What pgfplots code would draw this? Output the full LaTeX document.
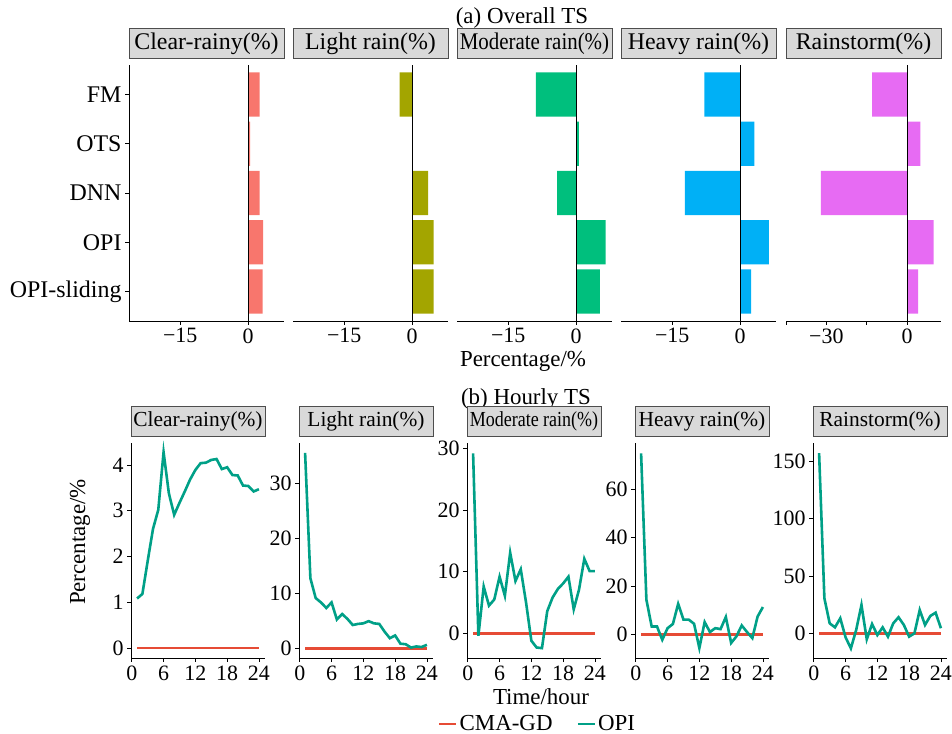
\documentclass[border=0pt]{standalone}
\usepackage{fontspec}
\setmainfont{Liberation Serif}
\usepackage{graphicx}
\usepackage{pgfplots}
\pgfplotsset{compat=1.18}
\newcommand{\fs}[1]{\fontsize{#1}{#1}\selectfont}
\definecolor{cA}{HTML}{F8766D}
\definecolor{cB}{HTML}{A3A500}
\definecolor{cC}{HTML}{00BF7D}
\definecolor{cD}{HTML}{00B0F6}
\definecolor{cE}{HTML}{E76BF3}
\definecolor{cmared}{HTML}{E64B35}
\definecolor{opiteal}{HTML}{00A087}
\definecolor{stripfill}{HTML}{D9D9D9}
\definecolor{stripdraw}{HTML}{4D4D4D}
\pgfplotsset{
  base/.style={scale only axis, clip=false,
    axis line style={-, line width=0.8bp, black},
    tick style={black, line width=0.8bp},
    major tick length=4bp, tick align=outside,
    tick label style={font=\fs{22}},
    /pgf/number format/assume math mode=true},
  topax/.style={base, width=155bp, height=256bp,
    ymin=0.4, ymax=5.6, xmin=-26.3, xmax=7.9,
    xtick={-15,0}, xticklabels={−15,0},
    bar width=0.9,
    title style={at={(0.5,1)}, anchor=south, yshift=0pt, draw=stripdraw, line width=0.8bp,
      fill=stripfill, minimum width=155bp, minimum height=30bp, inner sep=0pt, font=\fs{24}}},
  botax/.style={base, width=134bp, height=215bp,
    xmin=-0.15, xmax=25.15, xtick={0,6,12,18,24},
    axis x line*=bottom, axis y line*=left,
    title style={at={(0.5,1)}, anchor=south, yshift=0pt, draw=stripdraw, line width=0.8bp,
      fill=stripfill, minimum width=134bp, minimum height=30bp, inner sep=0pt, font=\fs{21.5}}},
  barp/.style={xbar, bar shift=0pt, draw=none, fill=#1},
  zline/.style={black, line width=1bp, sharp plot, no markers},
  cma/.style={cmared, line width=2.8bp, no markers, sharp plot},
  opi/.style={opiteal, line width=2.6bp, no markers, sharp plot},
}
% top data: y = 5 FM, 4 OTS, 3 DNN, 2 OPI, 1 OPI-sliding
\pgfplotstableread{
v y
2.5 5
0.4 4
2.5 3
3.3 2
3.2 1
}\tClear
\pgfplotstableread{
v y
-2.8 5
0.0 4
3.5 3
4.7 2
4.7 1
}\tLight
\pgfplotstableread{
v y
-8.9 5
0.6 4
-4.2 3
6.5 2
5.2 1
}\tModerate
\pgfplotstableread{
v y
-7.9 5
3.1 4
-12.2 3
6.3 2
2.4 1
}\tHeavy
\pgfplotstableread{
v y
-13.0 5
4.9 4
-32.0 3
9.9 2
4.1 1
}\tStorm
% hourly data
\pgfplotstableread{
h clear light moderate heavy storm
1 1.08 35.5 29.2 74.7 157
2 1.18 12.7 -0.4 14.4 30.5
3 1.90 9.1 7.6 3.4 8.7
4 2.60 8.3 4.5 3.4 5.2
5 3.02 7.3 5.5 -2.1 13.1
6 4.28 8.3 9.2 2.7 -3.5
7 3.38 5.2 6.1 4.4 -13.1
8 2.91 6.2 13.1 12.7 2.9
9 3.17 5.3 8.5 6.2 24.7
10 3.42 4.2 10.4 6.2 -5.2
11 3.68 4.4 5.0 4.5 8.1
12 3.89 4.5 -1.2 -5.5 -1.5
13 4.04 4.9 -2.3 5.2 5.2
14 4.05 4.5 -2.4 1.1 -2.9
15 4.11 4.4 3.6 2.7 8.7
16 4.13 3.0 5.8 2.3 14.0
17 3.91 1.8 7.2 7.3 7.3
18 3.95 2.3 8.1 -3.4 -2.9
19 3.78 0.8 9.2 -0.7 0.0
20 3.77 0.7 3.9 3.8 20.3
21 3.55 0.1 7.1 1.1 7.3
22 3.54 0.3 12.1 -1.4 15.1
23 3.42 0.2 10.1 7.5 18.0
24 3.47 0.6 10.1 11.4 4.4
}\tHour
\pgfplotstableread{
h v
1 0
24 0
}\tZero
\begin{document}
\begin{tikzpicture}
\useasboundingbox (0,0) rectangle (952bp,734bp);
% ---------- (a) ----------
\begin{axis}[topax, at={(129bp,413bp)}, anchor=south west,
  axis x line*=bottom, axis y line*=left,
  ytick={1,2,3,4,5},
  yticklabels={OPI-sliding,OPI,DNN,OTS,FM},
  yticklabel style={font=\fs{24}},
  title={Clear-rainy(\%)}]
\addplot[barp=cA] table[x=v,y=y]{\tClear};
\addplot[zline] coordinates {(0,0.4) (0,5.6)};
\end{axis}
\begin{axis}[topax, at={(293bp,413bp)}, anchor=south west,
  axis x line*=bottom, axis y line=none, ytick=\empty, title={Light rain(\%)}]
\addplot[barp=cB] table[x=v,y=y]{\tLight};
\addplot[zline] coordinates {(0,0.4) (0,5.6)};
\end{axis}
\begin{axis}[topax, at={(457bp,413bp)}, anchor=south west,
  axis x line*=bottom, axis y line=none, ytick=\empty, title={\scalebox{0.875}[1]{Moderate rain(\%)}}]
\addplot[barp=cC] table[x=v,y=y]{\tModerate};
\addplot[zline] coordinates {(0,0.4) (0,5.6)};
\end{axis}
\begin{axis}[topax, at={(621bp,413bp)}, anchor=south west,
  axis x line*=bottom, axis y line=none, ytick=\empty, title={Heavy rain(\%)}]
\addplot[barp=cD] table[x=v,y=y]{\tHeavy};
\addplot[zline] coordinates {(0,0.4) (0,5.6)};
\end{axis}
\begin{axis}[topax, at={(786bp,413bp)}, anchor=south west,
  axis x line*=bottom, axis y line=none, ytick=\empty, title={Rainstorm(\%)},
  xmin=-45, xmax=12.6, xtick={-45,-30,-15,0}, xticklabels={,−30,,0}]
\addplot[barp=cE] table[x=v,y=y]{\tStorm};
\addplot[zline] coordinates {(0,0.4) (0,5.6)};
\end{axis}
\node[font=\fs{23}] at (522bp,716bp) {(a) Overall TS};
\node[font=\fs{23}] at (523bp,373bp) {Percentage/\%};
% ---------- (b) ----------
\node[font=\fs{23}] at (526bp,335bp) {(b) Hourly TS};
\begin{axis}[botax, at={(131bp,76bp)}, anchor=south west, title={Clear-rainy(\%)},
  ymin=-0.22, ymax=4.48, ytick={0,1,2,3,4}]
\addplot[cma] table[x=h,y=v]{\tZero};
\addplot[opi] table[x=h,y=clear]{\tHour};
\end{axis}
\begin{axis}[botax, at={(299bp,76bp)}, anchor=south west, title={Light rain(\%)},
  ymin=-1.8, ymax=37.3, ytick={0,10,20,30}]
\addplot[cma] table[x=h,y=v]{\tZero};
\addplot[opi] table[x=h,y=light]{\tHour};
\end{axis}
\begin{axis}[botax, at={(467bp,76bp)}, anchor=south west, title={\scalebox{0.84}[1]{Moderate rain(\%)}},
  ymin=-4.0, ymax=30.9, ytick={0,10,20,30},
  legend style={at={(0.526,-0.307)}, anchor=center, draw=none, fill=none,
    legend columns=2, font=\fs{23},
    /tikz/every even column/.append style={column sep=22bp}},
  legend image code/.code={\draw[#1] (0bp,0bp) -- (17bp,0bp);}]
\addplot[cma] table[x=h,y=v]{\tZero};
\addlegendentry{CMA-GD}
\addplot[opi] table[x=h,y=moderate]{\tHour};
\addlegendentry{OPI}
\end{axis}
\begin{axis}[botax, at={(635bp,76bp)}, anchor=south west, title={Heavy rain(\%)},
  ymin=-9.6, ymax=79, ytick={0,20,40,60}]
\addplot[cma] table[x=h,y=v]{\tZero};
\addplot[opi] table[x=h,y=heavy]{\tHour};
\end{axis}
\begin{axis}[botax, at={(813bp,76bp)}, anchor=south west, title={Rainstorm(\%)},
  ymin=-21.5, ymax=165.8, ytick={0,50,100,150}]
\addplot[cma] table[x=h,y=v]{\tZero};
\addplot[opi] table[x=h,y=storm]{\tHour};
\end{axis}
\node[font=\fs{23}, rotate=90] at (80bp,192bp) {Percentage/\%};
\node[font=\fs{23}] at (541bp,37bp) {Time/hour};
\end{tikzpicture}
\end{document}
